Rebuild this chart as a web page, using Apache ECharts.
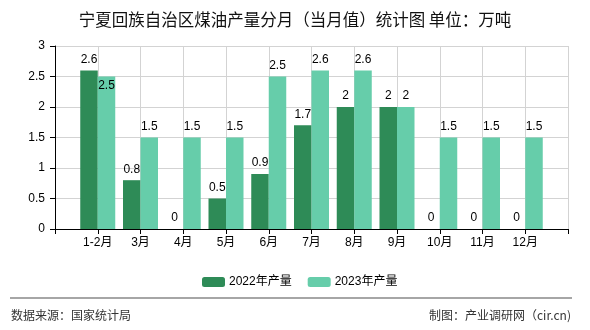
<!DOCTYPE html>
<html>
<head>
<meta charset="utf-8">
<script src="https://cdn.jsdelivr.net/npm/echarts@6/dist/echarts.min.js"></script>
<style>
html,body{margin:0;padding:0;background:#fff;}
#main{width:590px;height:330px;}
</style>
</head>
<body>
<div id="main"></div>
<script>
const titleText = '宁夏回族自治区煤油产量分月（当月值）统计图 单位：万吨';
const categories = ['1-2月','3月','4月','5月','6月','7月','8月','9月','10月','11月','12月'];
const series2022Name = '2022年产量';
const series2023Name = '2023年产量';
const output2022 = [2.6, 0.8, 0, 0.5, 0.9, 1.7, 2, 2, 0, 0, 0];
const output2023 = [2.5, 1.5, 1.5, 1.5, 2.5, 2.6, 2.6, 2, 1.5, 1.5, 1.5];
const sourceText = '数据来源：国家统计局';
const makerText = '制图：产业调研网（cir.cn)';

const axisData = [''].concat(categories, [' ']);
const pad = arr => [null].concat(arr, [null]);
const data2023 = pad(output2023).map((v, i) =>
  (i === 1 ? { value: v, label: { position: 'insideTop', distance: 3 } } : v));

const cjk = '"Noto Sans CJK SC", "Noto Sans", sans-serif';
const mixed = '"Liberation Sans", "Noto Sans CJK SC", sans-serif';
const chart = echarts.init(document.getElementById('main'), null, { renderer: 'canvas' });
chart.setOption({
  backgroundColor: '#fff',
  animation: false,
  title: {
    text: titleText,
    left: 'center',
    top: 6,
    textStyle: { fontSize: 16.5, fontWeight: 'normal', color: '#111', fontFamily: cjk }
  },
  legend: {
    data: [series2022Name, series2023Name],
    left: 197,
    top: 271,
    itemWidth: 23,
    itemHeight: 10,
    itemGap: 16,
    itemStyle: { borderWidth: 0 },
    textStyle: { fontSize: 12, color: '#000', fontFamily: mixed, padding: [0, 0, 0, -1] }
  },
  grid: { left: 55, right: 22, top: 46, bottom: 101, containLabel: false },
  xAxis: {
    type: 'category',
    data: axisData,
    boundaryGap: false,
    axisLine: { lineStyle: { color: '#000', width: 1 } },
    axisTick: { show: true, length: 5, interval: 0, lineStyle: { color: '#000' } },
    axisLabel: { interval: 0, color: '#000', fontSize: 12, margin: 8, fontFamily: mixed },
    splitLine: { show: true, interval: 0, lineStyle: { color: '#d3d3d3', width: 1 } }
  },
  yAxis: {
    type: 'value',
    min: 0,
    max: 3,
    interval: 0.5,
    axisLine: { show: true, lineStyle: { color: '#000', width: 1 } },
    axisTick: { show: true, length: 5, lineStyle: { color: '#000' } },
    axisLabel: { color: '#000', fontSize: 12, margin: 10, fontFamily: '"Liberation Sans", sans-serif' },
    splitLine: { show: true, lineStyle: { color: '#d3d3d3', width: 1 } }
  },
  series: [
    {
      name: series2022Name,
      type: 'bar',
      data: pad(output2022),
      barWidth: 17.5,
      barGap: '0%',
      itemStyle: { color: '#2E8B57' },
      label: { show: true, position: 'top', distance: 5, color: '#000', fontSize: 12, fontFamily: '"Liberation Sans", sans-serif' }
    },
    {
      name: series2023Name,
      type: 'bar',
      data: data2023,
      barWidth: 17.5,
      barGap: '0%',
      itemStyle: { color: '#66CDAA' },
      label: { show: true, position: 'top', distance: 5, color: '#000', fontSize: 12, fontFamily: '"Liberation Sans", sans-serif' }
    }
  ],
  graphic: [
    { type: 'line', shape: { x1: 10, y1: 298, x2: 572, y2: 298 }, style: { stroke: '#888', lineWidth: 1.5 } },
    { type: 'text', left: 11, top: 309, style: { text: sourceText, fontSize: 12, fill: '#333', fontFamily: cjk } },
    { type: 'text', right: 19, top: 309, style: { text: makerText, fontSize: 12, fill: '#333', fontFamily: cjk } }
  ]
});
</script>
</body>
</html>
